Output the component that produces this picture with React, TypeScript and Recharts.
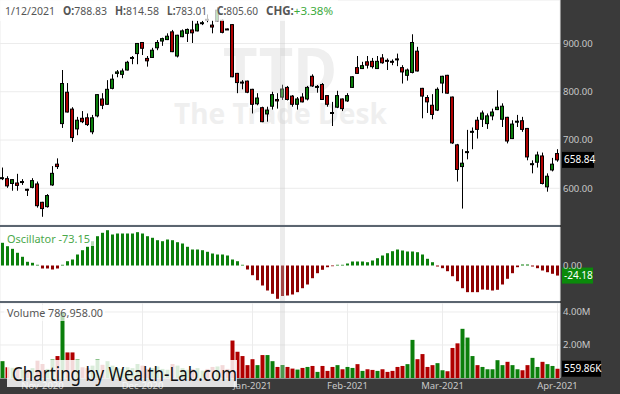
import { ComposedChart, Bar, XAxis, YAxis, CartesianGrid, Cell, ReferenceLine } from "recharts";

const FONT = "'Noto Sans', 'Open Sans', sans-serif";
const GREEN = "#0b7f0b";
const RED = "#b00000";
const OSC_RED = "#8e0000";
const DARK = "#3a3a3a";
const AXIS_TEXT = "#c8c8c8";
const GRID = "#ececec";

// trading days shown (Oct 21 2020 .. Apr 1 2021)
const DATES = [
  "2020-10-21", "2020-10-22", "2020-10-23", "2020-10-26", "2020-10-27", "2020-10-28", "2020-10-29", "2020-10-30",
  "2020-11-02", "2020-11-03", "2020-11-04", "2020-11-05", "2020-11-06", "2020-11-09", "2020-11-10", "2020-11-11",
  "2020-11-12", "2020-11-13", "2020-11-16", "2020-11-17", "2020-11-18", "2020-11-19", "2020-11-20", "2020-11-23",
  "2020-11-24", "2020-11-25", "2020-11-27", "2020-11-30",
  "2020-12-01", "2020-12-02", "2020-12-03", "2020-12-04", "2020-12-07", "2020-12-08", "2020-12-09", "2020-12-10",
  "2020-12-11", "2020-12-14", "2020-12-15", "2020-12-16", "2020-12-17", "2020-12-18", "2020-12-21", "2020-12-22",
  "2020-12-23", "2020-12-24", "2020-12-28", "2020-12-29", "2020-12-30", "2020-12-31",
  "2021-01-04", "2021-01-05", "2021-01-06", "2021-01-07", "2021-01-08", "2021-01-11", "2021-01-12", "2021-01-13",
  "2021-01-14", "2021-01-15", "2021-01-19", "2021-01-20", "2021-01-21", "2021-01-22", "2021-01-25", "2021-01-26",
  "2021-01-27", "2021-01-28", "2021-01-29",
  "2021-02-01", "2021-02-02", "2021-02-03", "2021-02-04", "2021-02-05", "2021-02-08", "2021-02-09", "2021-02-10",
  "2021-02-11", "2021-02-12", "2021-02-16", "2021-02-17", "2021-02-18", "2021-02-19", "2021-02-22", "2021-02-23",
  "2021-02-24", "2021-02-25", "2021-02-26",
  "2021-03-01", "2021-03-02", "2021-03-03", "2021-03-04", "2021-03-05", "2021-03-08", "2021-03-09", "2021-03-10",
  "2021-03-11", "2021-03-12", "2021-03-15", "2021-03-16", "2021-03-17", "2021-03-18", "2021-03-19", "2021-03-22",
  "2021-03-23", "2021-03-24", "2021-03-25", "2021-03-26", "2021-03-29", "2021-03-30", "2021-03-31",
  "2021-04-01",
];

const OPEN = [
  620, 620, 610, 611, 613, 598, 602, 609, 571, 562,
  607, 650, 734, 799, 764, 723, 745, 746, 717, 750,
  785, 774, 807, 838, 836, 845, 869, 879, 902, 869,
  871, 891, 905, 908, 924, 874, 914, 921, 928, 926,
  942, 950, 938, 947, 948, 930, 939, 838, 820, 822,
  805, 775, 767, 754, 770, 784, 788.83, 809, 791, 774,
  789, 785, 832, 810, 815, 792, 757, 768, 785, 781,
  809, 850, 848, 862, 863, 848, 870, 865, 863, 868,
  850, 834, 840, 884, 807, 788, 772, 762, 818, 834,
  789, 690, 645, 675, 717, 741, 743, 734, 750, 763,
  743, 747, 703, 738, 740, 724, 650, 654, 667, 603,
  638, 672,
];
const HIGH = [
  643, 625, 619, 630, 619, 599, 621, 614, 572, 588,
  646, 662, 845, 818, 768, 748, 760, 755, 752, 795,
  797, 824, 836, 845, 848, 864, 874, 901, 903, 874,
  891, 907, 912, 921, 928, 918, 929, 931, 948, 947,
  947, 960, 948, 975, 950, 931, 940, 839, 824, 823,
  806, 797, 769, 769, 800, 797, 814.58, 812, 793, 789,
  797, 812, 836, 814, 818, 793, 779, 802, 786, 797,
  832, 874, 862, 874, 870, 874, 878, 869, 867, 879,
  855, 848, 919, 893, 808, 793, 795, 809, 833, 835,
  790, 692, 681, 721, 726, 748, 761, 755, 765, 803,
  776, 748, 741, 752, 748, 725, 658, 676, 674, 631,
  663, 681,
];
const LOW = [
  617, 601, 595, 595, 607, 584, 600, 560, 541, 560,
  605, 640, 725, 757, 696, 710, 735, 729, 712, 747,
  764, 773, 805, 830, 828, 844, 857, 857, 876, 852,
  870, 886, 895, 907, 882, 871, 913, 903, 901, 925,
  938, 944, 921, 946, 921, 928, 830, 797, 805, 797,
  755, 772, 737, 738, 763, 765, 783.01, 782, 769, 763,
  778, 782, 810, 798, 783, 769, 729, 766, 760, 779,
  808, 837, 847, 848, 848, 847, 858, 845, 855, 853,
  817, 823, 838, 842, 745, 756, 743, 760, 797, 796,
  692, 614, 558, 660, 681, 703, 727, 723, 741, 762,
  727, 693, 702, 727, 717, 658, 631, 643, 608, 593,
  635, 655,
];
const CLOSE = [
  622, 605, 618, 606, 614, 597, 616, 564, 558, 585,
  631, 645, 817, 758, 705, 741, 738, 732, 746, 794,
  772, 805, 826, 841, 843, 861, 871, 900, 890, 864,
  886, 902, 910, 915, 883, 917, 926, 929, 922, 940,
  943, 948, 934, 969, 923, 929, 831, 819, 819, 799,
  774, 787, 738, 762, 794, 781, 805.6, 784, 774, 785,
  779, 809, 812, 811, 784, 774, 756, 792, 765, 792,
  831, 838, 854, 855, 852, 863, 860, 864, 862, 867,
  841, 845, 902, 843, 791, 779, 753, 805, 832, 797,
  694, 639, 652, 676, 718, 722, 756, 750, 758, 768,
  770, 698, 733, 739, 722, 665, 651, 669, 610, 625,
  650, 658.84,
];

const OSC = [
  54.5, 46.3, 40, 30.5, 20.9, 8.9, 6.5, 1.7, -7.2, -7.2,
  -9.6, -7.2, 1.7, 10.3, 14.4, 26.4, 36.7, 44.9, 58.3, 70.3,
  78.5, 84.7, 74.4, 76.8, 76.8, 76.8, 76.8, 80, 76.8, 70.3,
  66.5, 60.7, 58.3, 62.4, 60.7, 55.9, 52.8, 44.9, 38.4, 38.4,
  36.7, 32.9, 28.8, 26.4, 26.4, 24, 14.4, 10.3, 1.7, -9.6,
  -23.3, -35.3, -48, -60, -67.9, -79.9, -73.15, -72, -69.6, -64,
  -54.5, -45.6, -30.5, -18.5, -10.3, -4.1, -1.7, 1.7, 1.7, 4.8,
  9.6, 9.6, 9.6, 7.9, 12, 17.5, 24, 29.5, 34.3, 38.4,
  36, 33.6, 33.6, 31.9, 26.4, 16.1, 7.9, -2.4, -6.5, -13.7,
  -25.7, -37.7, -54.5, -64, -64, -64, -57.6, -58.3, -60, -58.3,
  -45.6, -31.9, -18.5, -4.1, 2.4, 2.4, -2.4, -6.5, -12, -16.1,
  -19.9, -24.18,
];

// volume in millions
const VOLUME = [
  1.02, 0.65, 0.62, 0.55, 0.5, 0.5, 0.6, 1.05, 0.85, 0.55,
  1.12, 1.33, 4.0, 1.55, 1.55, 1.12, 0.65, 0.6, 0.75, 1.12,
  0.8, 1.02, 0.75, 0.6, 0.55, 0.65, 0.6, 0.85, 0.75, 0.55,
  0.6, 0.7, 0.55, 0.5, 0.85, 0.75, 0.6, 0.5, 0.55, 0.6,
  0.45, 0.55, 0.67, 0.7, 0.78, 0.55, 2.27, 1.59, 1.33, 0.78,
  1.14, 0.78, 1.39, 1.39, 1.02, 0.67, 0.786958, 0.67, 0.57, 0.51,
  0.61, 0.67, 0.73, 0.37, 0.73, 0.43, 0.67, 0.78, 0.53, 0.67,
  0.61, 0.84, 0.43, 0.53, 0.49, 0.43, 0.53, 0.37, 0.43, 0.67,
  0.73, 0.84, 2.31, 1.14, 1.45, 0.67, 0.78, 0.9, 0.47, 0.41,
  1.82, 2.1, 2.98, 2.45, 1.33, 0.78, 0.67, 0.53, 0.53, 1.08,
  0.78, 0.98, 0.78, 0.53, 0.47, 0.78, 1.22, 0.67, 0.98, 0.84,
  0.73, 0.55986,
];

const MONTH_TICKS = ["2020-11-02", "2020-12-01", "2021-01-04", "2021-02-01", "2021-03-01", "2021-04-01"];
const PRICE_TICKS = [600, 700, 800, 900];
const OSC_TICKS = [0];
const VOLUME_TICKS = [2, 4];
const CURSOR = "2021-01-12";
const LAST_PRICE = 658.84;
const LAST_OSC = -24.18;
const LAST_VOLUME = 0.55986;
const MONTHS = ["Jan", "Feb", "Mar", "Apr", "May", "Jun", "Jul", "Aug", "Sep", "Oct", "Nov", "Dec"];

const rows = DATES.map((date, i) => ({
  date,
  range: [LOW[i], HIGH[i]],
  open: OPEN[i],
  high: HIGH[i],
  low: LOW[i],
  close: CLOSE[i],
  osc: OSC[i],
  volume: VOLUME[i],
  up: CLOSE[i] >= OPEN[i],
}));

function monthLabel(d: string) {
  const [y, m] = d.split("-");
  return `${MONTHS[parseInt(m, 10) - 1]}-${y}`;
}

function Candle(props: any) {
  const { x, y, width, height, payload } = props;
  if (!payload) return null;
  const top = Math.min(y, y + height);
  const h = Math.abs(height);
  const { open, close, high, low } = payload;
  const py = (v: number) => top + ((high - v) / (high - low)) * h;
  const bodyTop = py(Math.max(open, close));
  const bodyH = Math.max(1, py(Math.min(open, close)) - bodyTop);
  const cx = x + 2;
  return (
    <g>
      <line x1={cx} x2={cx} y1={top} y2={top + h} stroke="#000" strokeWidth={1} />
      <rect x={x} y={bodyTop} width={width - 1} height={bodyH} fill={close >= open ? GREEN : RED} stroke="#000" strokeWidth={1} />
    </g>
  );
}

const rightTick = (fmt: (v: number) => string) => (props: any) => (
  <text x={props.x} y={props.y} dy={3.4} fill={AXIS_TEXT} fontSize={9.5} textAnchor="start">
    {fmt(props.payload.value)}
  </text>
);

const tag = (text: string, bg: string, w: number) => (props: any) => {
  const vb = props.viewBox;
  if (!vb) return null;
  const x = vb.x + vb.width + 2;
  return (
    <g>
      <rect x={x} y={vb.y - 8} width={w} height={16} fill={bg} />
      <text x={x + 2} y={vb.y + 3.6} fill="#fff" fontSize={10}>{text}</text>
    </g>
  );
};

const hiddenX = (
  <XAxis dataKey="date" ticks={MONTH_TICKS} interval={0} tick={false} tickLine={false} axisLine={false} height={0} />
);

export default function App() {
  return (
    <div style={{ position: "fixed", left: 0, top: 0, width: 620, height: 394, background: "#fff", fontFamily: FONT, overflow: "hidden" }}>
      <svg width={620} height={394} style={{ position: "absolute", left: 0, top: 0 }}>
        <text x={223} y={93} fontSize={62} fontWeight="bold" fill="#efefef" textLength={114} lengthAdjust="spacingAndGlyphs">TTD</text>
        <text x={174} y={124} fontSize={28} fontWeight="bold" fill="#efefef" textLength={213} lengthAdjust="spacingAndGlyphs">The Trade Desk</text>
        <rect x={560} y={0} width={60} height={394} fill={DARK} />
        <rect x={0} y={378} width={620} height={16} fill={DARK} />
      </svg>

      <div style={{ position: "absolute", left: 0, top: 0 }}>
        <ComposedChart width={620} height={225} data={rows} margin={{ top: 0, right: 0, bottom: 0, left: 0 }} barCategoryGap="10%">
          <CartesianGrid stroke={GRID} />
          {hiddenX}
          <YAxis orientation="right" width={60} domain={[524, 990]} ticks={PRICE_TICKS} tickLine={false} axisLine={false}
            tickSize={0} tickMargin={3} tick={rightTick((v) => v.toFixed(2))} />
          <ReferenceLine x={CURSOR} stroke="rgba(200,200,200,0.35)" strokeWidth={5} />
          <Bar dataKey="range" shape={Candle} isAnimationActive={false} />
          <ReferenceLine y={LAST_PRICE} stroke="none" label={tag(LAST_PRICE.toFixed(2), "#000", 32)} />
        </ComposedChart>
      </div>

      <div style={{ position: "absolute", left: 0, top: 227 }}>
        <ComposedChart width={620} height={74} data={rows} margin={{ top: 0, right: 0, bottom: 0, left: 0 }} barCategoryGap={1}>
          <CartesianGrid stroke={GRID} horizontal={false} />
          {hiddenX}
          <YAxis orientation="right" width={60} domain={[-85.2, 92.4]} ticks={OSC_TICKS} tickLine={false} axisLine={false}
            tickSize={0} tickMargin={3} tick={rightTick((v) => v.toFixed(2))} />
          <ReferenceLine x={CURSOR} stroke="rgba(200,200,200,0.35)" strokeWidth={5} />
          <Bar dataKey="osc" isAnimationActive={false}>
            {rows.map((r) => (
              <Cell key={r.date} fill={r.osc >= 0 ? GREEN : OSC_RED} />
            ))}
          </Bar>
          <ReferenceLine y={LAST_OSC} stroke="none" label={tag(LAST_OSC.toFixed(2), "#0b8a0b", 31)} />
        </ComposedChart>
      </div>

      <div style={{ position: "absolute", left: 0, top: 303 }}>
        <ComposedChart width={620} height={91} data={rows} margin={{ top: 0, right: 0, bottom: 0, left: 0 }} barCategoryGap="10%">
          <CartesianGrid stroke={GRID} />
          <XAxis dataKey="date" ticks={MONTH_TICKS} interval={0} tickLine={false} axisLine={false} height={16}
            tickSize={0} tickMargin={0}
            tick={(props: any) => (
              <text x={props.x} y={props.y + 11} textAnchor="middle" fill={AXIS_TEXT} fontSize={9.5}>
                {monthLabel(props.payload.value)}
              </text>
            )} />
          <YAxis orientation="right" width={60} domain={[0, 4.545]} ticks={VOLUME_TICKS} tickLine={false} axisLine={false}
            tickSize={0} tickMargin={3} tick={rightTick((v) => `${v.toFixed(2)}M`)} />
          <ReferenceLine x={CURSOR} stroke="rgba(200,200,200,0.35)" strokeWidth={5} />
          <Bar dataKey="volume" isAnimationActive={false}>
            {rows.map((r) => (
              <Cell key={r.date} fill={r.up ? GREEN : RED} />
            ))}
          </Bar>
          <ReferenceLine y={LAST_VOLUME} stroke="none" label={tag(`${(LAST_VOLUME * 1000).toFixed(2)}K`, "#000", 39)} />
        </ComposedChart>
      </div>

      <svg width={620} height={394} style={{ position: "absolute", left: 0, top: 0, pointerEvents: "none" }}>
        <line x1={0} x2={560} y1={226} y2={226} stroke="#5b6570" strokeWidth={2} />
        <line x1={0} x2={560} y1={302} y2={302} stroke="#5b6570" strokeWidth={2} />

        <rect x={0} y={0} width={338} height={21} fill="rgba(255,255,255,0.75)" />
        <g fontSize={11.5} fill="#555">
          <text x={5} y={15} textLength={50} lengthAdjust="spacingAndGlyphs">1/12/2021</text>
          <text x={63} y={15} textLength={44} lengthAdjust="spacingAndGlyphs"><tspan fontWeight="bold">O:</tspan>788.83</text>
          <text x={115} y={15} textLength={44} lengthAdjust="spacingAndGlyphs"><tspan fontWeight="bold">H:</tspan>814.58</text>
          <text x={167} y={15} textLength={40} lengthAdjust="spacingAndGlyphs"><tspan fontWeight="bold">L:</tspan>783.01</text>
          <text x={217} y={15} textLength={41} lengthAdjust="spacingAndGlyphs"><tspan fontWeight="bold">C:</tspan>805.60</text>
          <text x={266} y={15} textLength={67} lengthAdjust="spacingAndGlyphs"><tspan fontWeight="bold">CHG:</tspan><tspan fill="#3caa3c">+3.38%</tspan></text>
        </g>

        <rect x={4} y={229} width={90} height={17} fill="rgba(255,255,255,0.7)" />
        <text x={7} y={243} fontSize={11.5} fill="#4aa84a" textLength={83} lengthAdjust="spacingAndGlyphs">Oscillator -73.15</text>

        <rect x={4} y={305} width={101} height={16} fill="rgba(255,255,255,0.7)" />
        <text x={7} y={317} fontSize={11.5} fill="#555" textLength={96} lengthAdjust="spacingAndGlyphs">Volume 786,958.00</text>

        <rect x={7} y={360} width={230} height={27} fill="rgba(255,255,255,0.85)" />
        <text x={12} y={381} fontSize={19.5} fill="#111" textLength={225} lengthAdjust="spacingAndGlyphs">Charting by Wealth-Lab.com</text>
      </svg>
    </div>
  );
}
